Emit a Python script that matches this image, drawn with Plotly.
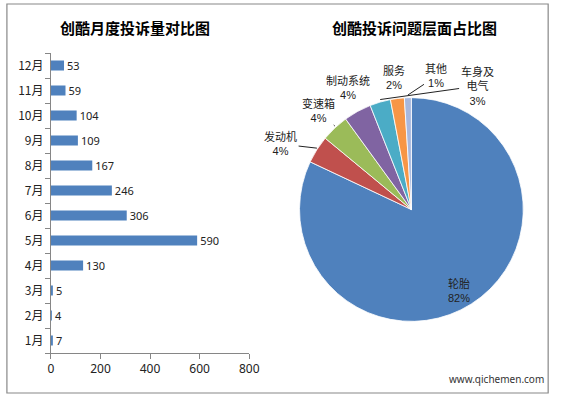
import math
import plotly.graph_objects as go

# ---------------- data ----------------
months = ["1月", "2月", "3月", "4月", "5月", "6月", "7月", "8月", "9月", "10月", "11月", "12月"]
complaints = [7, 4, 5, 130, 590, 306, 246, 167, 109, 104, 59, 53]
x_ticks = [0, 200, 400, 600, 800]

issue_labels = ["轮胎", "发动机", "变速箱", "制动系统", "车身及电气", "服务", "其他"]
issue_shares = [82, 4, 4, 4, 3, 2, 1]
issue_label_text = ["轮胎", "发动机", "变速箱", "制动系统", "车身及<br>电气", "服务", "其他"]

title_bar = "创酷月度投诉量对比图"
title_pie = "创酷投诉问题层面占比图"
watermark = "www.qichemen.com"

# ---------------- layout helpers ----------------
W, H = 565, 398
def px(x):
    return x / W
def py(y):
    return 1 - y / H

FONT = "Noto Sans CJK SC, Noto Sans, sans-serif"
LABEL_FONT = "Liberation Sans, Noto Sans CJK SC, sans-serif"
pie_colors = ["#4F81BD", "#C0504D", "#9BBB59", "#8064A2", "#4BACC6", "#F79646", "#A7B8DE"]

fig = go.Figure()

fig.add_trace(go.Bar(
    x=complaints, y=months, orientation="h",
    marker=dict(color="#4F81BD", line=dict(width=0)),
    width=0.4,
    text=[str(v) for v in complaints], textposition="outside",
    constraintext="none",
    textfont=dict(size=11, color="#222222", family="Noto Sans, sans-serif"),
    cliponaxis=False,
    xaxis="x", yaxis="y", showlegend=False,
))

# pie geometry (pixels)
cx, cy, r = 418, 209.5, 114.5
fig.add_trace(go.Pie(
    labels=issue_labels, values=issue_shares,
    sort=False, direction="clockwise", rotation=0,
    marker=dict(colors=pie_colors, line=dict(color="white", width=0.8)),
    textinfo="none", hoverinfo="label+percent",
    domain=dict(x=[px(cx - r), px(cx + r)], y=[py(cy + r), py(cy - r)]),
    showlegend=False,
))

# label text centres (pixels)
label_pos = [(467, 290), (285, 144), (323, 110), (353, 88), (483, 86), (400, 78), (443, 76)]
use_line = [False, True, True, False, True, False, True]

total = sum(issue_shares)
cum = 0
annotations = []
for i, v in enumerate(issue_shares):
    mid = (cum + v / 2) / total
    cum += v
    th = 2 * math.pi * mid
    ex = cx + r * math.sin(th)
    ey = cy - r * math.cos(th)
    pct = f"{round(v / total * 100)}%"
    txt = f"{issue_label_text[i]}<br>{pct}"
    tx, ty = label_pos[i]
    if use_line[i]:
        annotations.append(dict(
            x=px(ex), y=py(ey), xref="paper", yref="paper",
            ax=tx - ex, ay=ty - ey, axref="pixel", ayref="pixel",
            text=txt, showarrow=True, arrowhead=0, arrowwidth=1,
            arrowcolor="#222222", standoff=0,
            font=dict(size=11, color="#222222", family=LABEL_FONT),
        ))
    else:
        annotations.append(dict(
            x=px(tx), y=py(ty), xref="paper", yref="paper",
            xanchor="center", yanchor="middle",
            text=txt, showarrow=False,
            font=dict(size=11, color="#222222", family=LABEL_FONT),
        ))

annotations += [
    dict(x=px(135), y=py(27), xref="paper", yref="paper", text=f"<b>{title_bar}</b>",
         xanchor="center", yanchor="middle",
         showarrow=False, font=dict(size=15, color="#000000", family=FONT)),
    dict(x=px(421), y=py(27), xref="paper", yref="paper", text=f"<b>{title_pie}</b>",
         xanchor="center", yanchor="middle",
         showarrow=False, font=dict(size=15, color="#000000", family=FONT)),
    dict(x=px(505), y=py(379), xref="paper", yref="paper", text=watermark,
         xanchor="center", yanchor="middle",
         showarrow=False, font=dict(size=10, color="#333333", family="Noto Sans, sans-serif")),
]

fig.update_layout(
    width=W, height=H,
    margin=dict(l=0, r=0, t=0, b=0),
    paper_bgcolor="white", plot_bgcolor="white",
    font=dict(family=FONT),
    xaxis=dict(
        domain=[px(49), px(252)], range=[0, 800],
        tickvals=x_ticks, ticktext=[str(t) for t in x_ticks],
        showgrid=False, zeroline=False,
        showline=True, linecolor="#868686", linewidth=1,
        ticks="outside", ticklen=5, tickcolor="#868686",
        tickfont=dict(size=12, color="#222222", family="Noto Sans, sans-serif"),
        anchor="y", fixedrange=True,
    ),
    yaxis=dict(
        domain=[py(353), py(53)],
        categoryorder="array", categoryarray=months,
        showgrid=False, zeroline=False,
        showline=True, linecolor="#868686", linewidth=1,
        ticks="outside", ticklen=5, tickcolor="#868686", tickson="boundaries",
        ticklabelstandoff=4,
        tickfont=dict(size=12, color="#222222", family=FONT),
        anchor="x", fixedrange=True,
    ),
    annotations=annotations,
    shapes=[dict(type="rect", xref="paper", yref="paper",
                 x0=px(4), x1=px(558), y0=py(393), y1=py(4),
                 line=dict(color="#888888", width=1.2), fillcolor="rgba(0,0,0,0)")],
)

fig.write_html("out.html", config={"displayModeBar": False},
               post_script="document.body.style.margin='0';")
